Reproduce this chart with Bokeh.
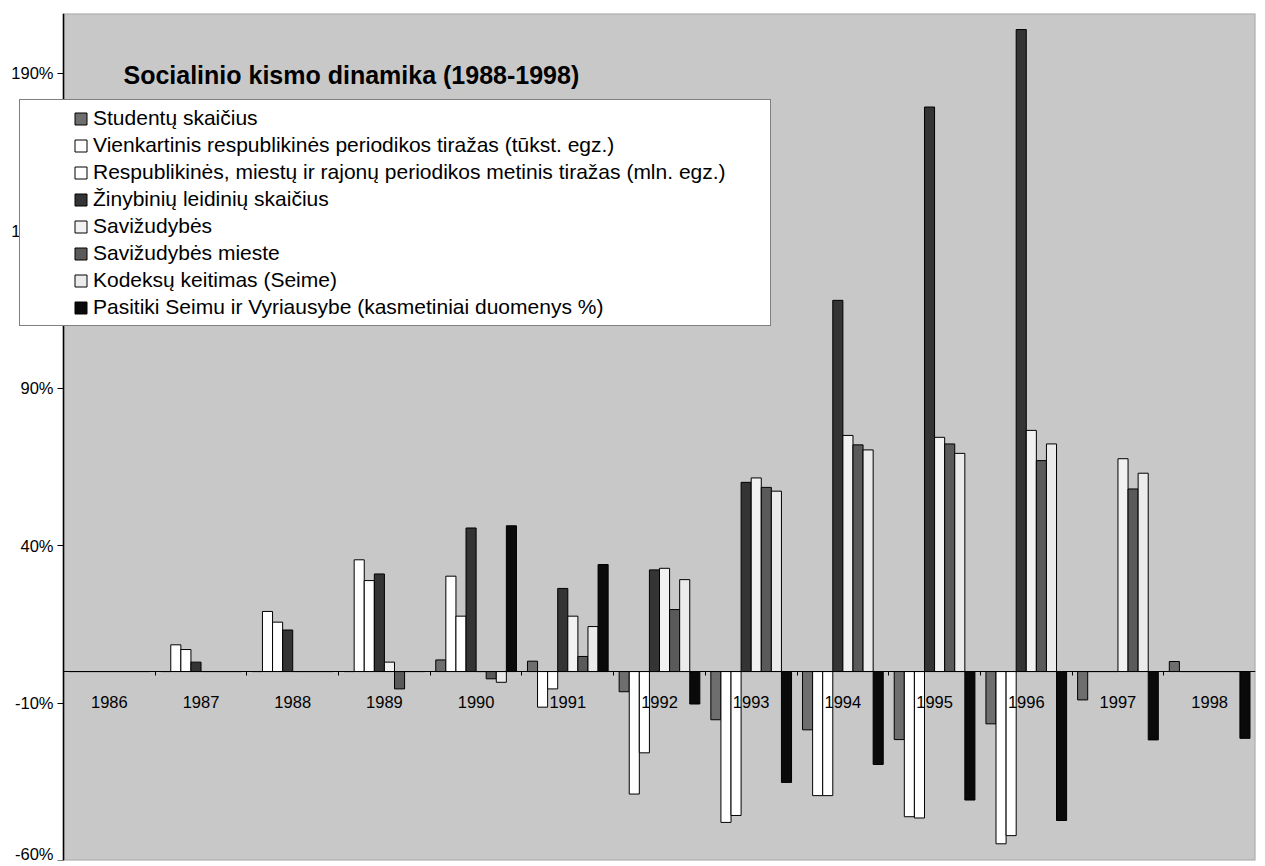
from bokeh.plotting import figure
from bokeh.models import (Range1d, FixedTicker, PrintfTickFormatter, Legend,
                          LegendItem, Label, ColumnDataSource, BoxAnnotation)
from bokeh.transform import dodge
from bokeh.embed import file_html
from bokeh.resources import INLINE

# ---------------- data (percent change) ----------------
years = [1986, 1987, 1988, 1989, 1990, 1991, 1992, 1993, 1994, 1995, 1996, 1997, 1998]

series_names = [
    "Studentų skaičius",
    "Vienkartinis respublikinės periodikos tiražas (tūkst. egz.)",
    "Respublikinės, miestų ir rajonų periodikos metinis tiražas (mln. egz.)",
    "Žinybinių leidinių skaičius",
    "Savižudybės",
    "Savižudybės mieste",
    "Kodeksų keitimas (Seime)",
    "Pasitiki Seimu ir Vyriausybe (kasmetiniai duomenys %)",
]

studentu = [0, 0, 0, 0, 3.7, 3.3, -6.4, -15.3, -18.5, -21.6, -16.6, -9.0, 3.2]
vienkartinis = [0, 8.5, 19.1, 35.5, 30.3, -11.3, -38.9, -47.9, -39.4, -46.1, -54.7, 0, 0]
metinis = [0, 7.0, 15.7, 28.9, 17.6, -5.5, -25.8, -45.7, -39.4, -46.5, -52.1, 0, 0]
zinybiniu = [0, 3.0, 13.2, 31.0, 45.6, 26.4, 32.3, 60.1, 117.9, 179.3, 203.9, 0, 0]
savizudybes = [0, 0, 0, 3.0, 0, 17.6, 32.8, 61.5, 75.0, 74.4, 76.6, 67.6, 0]
savizudybes_mieste = [0, 0, 0, -5.5, -2.3, 4.8, 19.7, 58.5, 72.0, 72.3, 67.0, 58.0, 0]
kodeksu = [0, 0, 0, 0, -3.4, 14.3, 29.2, 57.3, 70.4, 69.3, 72.3, 63.0, 0]
pasitiki = [0, 0, 0, 0, 46.3, 34.0, -10.3, -35.2, -29.5, -40.8, -47.3, -21.7, -21.2]

y_ticks = [-60, -10, 40, 90, 140, 190]
title_text = "Socialinio kismo dinamika (1988-1998)"

# ---------------- styles ----------------
fills = ["#6e6e6e", "#ffffff", "#ffffff", "#343434", "#f2f2f2", "#5a5a5a", "#ebebeb", "#0a0a0a"]
FONT = "Liberation Sans"
bar_w = 0.11
X0, X1 = years[0] - 0.5, years[-1] + 0.5
Y0, Y1 = -60, 209
PX_PER_YEAR = 91.7
x_start = X0 - 63 / PX_PER_YEAR   # room left of the axis for tick labels and the legend box

p = figure(width=1260, height=862,
           x_range=Range1d(x_start, X1), y_range=Range1d(Y0, Y1),
           output_backend="svg", toolbar_location=None,
           min_border_left=0, min_border_right=5, min_border_top=13, min_border_bottom=2)

p.background_fill_color = "white"
p.border_fill_color = "white"
p.outline_line_color = None
p.grid.visible = False

# chart area (grey) from the y axis to the right edge
p.add_layout(BoxAnnotation(left=X0, right=X1, bottom=Y0, top=Y1, level="underlay",
                           fill_color="#c8c8c8", fill_alpha=1.0,
                           line_color="black", line_width=1.5))

all_series = [studentu, vienkartinis, metinis, zinybiniu, savizudybes,
              savizudybes_mieste, kodeksu, pasitiki]

src = ColumnDataSource(data=dict(x=years, **{f"s{i}": v for i, v in enumerate(all_series)}))

items = []
for i, name in enumerate(series_names):
    off = (i - 3.5) * bar_w
    r = p.vbar(x=dodge("x", off), top=f"s{i}", bottom=0, width=bar_w, source=src,
               fill_color=fills[i], line_color="black", line_width=1)
    items.append(LegendItem(label=name, renderers=[r]))

# y axis, drawn at the left edge of the grey chart area
yax = p.yaxis[0]
yax.fixed_location = X0
yax.ticker = FixedTicker(ticks=y_ticks)
yax.formatter = PrintfTickFormatter(format="%d%%")
yax.major_label_text_font = FONT
yax.major_label_text_font_size = "16.5px"
yax.major_label_text_color = "black"
yax.major_tick_out = 6
yax.major_tick_in = 0
yax.minor_tick_out = 0
yax.minor_tick_in = 0
yax.axis_line_width = 1.5
yax.axis_line_color = "black"
yax.major_tick_line_color = "black"
yax.major_label_standoff = 4

# x axis at zero
xax = p.xaxis[0]
xax.fixed_location = 0
xax.bounds = (X0, X1)
xax.ticker = FixedTicker(ticks=years, minor_ticks=[y + 0.5 for y in years[:-1]])
xax.major_label_text_font = FONT
xax.major_label_text_font_size = "16.5px"
xax.major_label_text_color = "black"
xax.major_tick_in = 0
xax.major_tick_out = 0
xax.minor_tick_in = 0
xax.minor_tick_out = 4
xax.minor_tick_line_color = "black"
xax.axis_line_color = "black"
xax.axis_line_width = 1.2
xax.major_label_standoff = 20

# title inside plot area
p.add_layout(Label(x=1986.154, y=189.6, text=title_text, text_font=FONT,
                   text_font_style="bold", text_font_size="25px", text_color="black",
                   text_baseline="alphabetic", text_align="left"))

legend = Legend(items=items, location=(19, 534),
                label_text_font=FONT, label_text_font_size="21px", label_text_color="black",
                glyph_width=15, glyph_height=15, label_standoff=5,
                spacing=3, padding=6, margin=0,
                border_line_color="black", border_line_width=1,
                background_fill_color="white", background_fill_alpha=1.0,
                title=" ", title_location="left", title_text_font_size="10px",
                title_standoff=36, label_width=671)
p.add_layout(legend)

open("out.html", "w").write(file_html(p, INLINE))
